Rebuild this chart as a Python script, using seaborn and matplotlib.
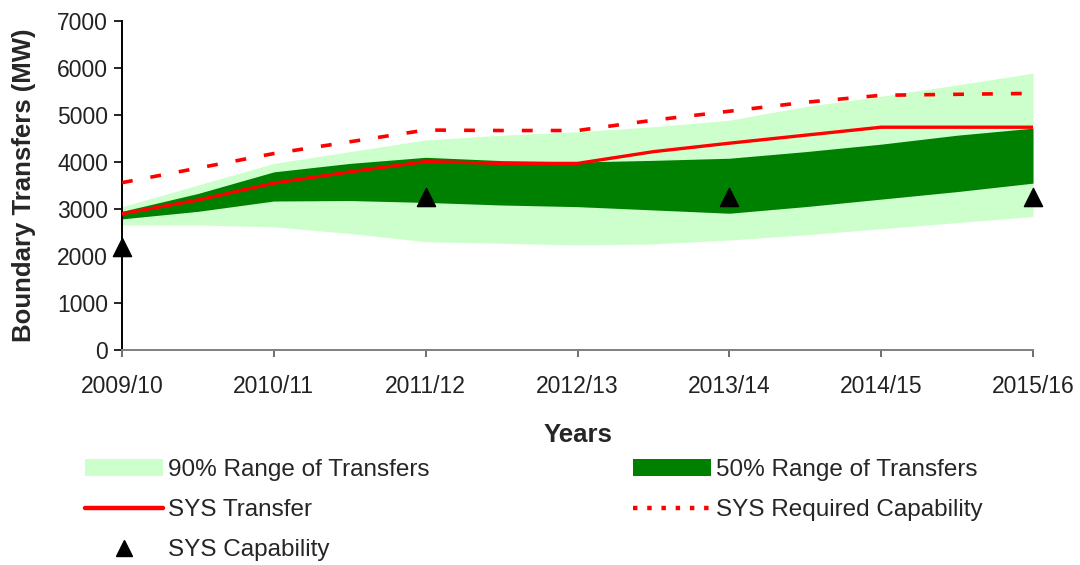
import matplotlib
matplotlib.use("Agg")
import matplotlib.pyplot as plt
import seaborn as sns
from matplotlib.patches import Patch
from matplotlib.lines import Line2D

# ---------------- data ----------------
years = ["2009/10", "2010/11", "2011/12", "2012/13", "2013/14", "2014/15", "2015/16"]
# sample points along the year axis (index of year, half-year steps)
t = [0, 0.5, 1, 1.5, 2, 2.5, 3, 3.5, 4, 4.5, 5, 5.5, 6]

range90_hi = [3050, 3510, 3970, 4220, 4470, 4570, 4645, 4750, 4890, 5180, 5400, 5640, 5890]
range90_lo = [2660, 2660, 2620, 2480, 2305, 2270, 2235, 2255, 2340, 2450, 2580, 2710, 2840]
range50_hi = [2950, 3330, 3790, 3970, 4100, 4030, 4000, 4035, 4080, 4220, 4380, 4570, 4720]
range50_lo = [2790, 2950, 3170, 3180, 3140, 3085, 3050, 2980, 2910, 3050, 3210, 3370, 3550]
sys_transfer = [2900, 3190, 3550, 3790, 4010, 3970, 3970, 4220, 4400, 4570, 4740, 4740, 4740]
sys_required = [3560, 3870, 4180, 4430, 4680, 4670, 4670, 4890, 5080, 5270, 5420, 5440, 5460]

cap_t = [0, 2, 4, 6]
sys_capability = [2200, 3250, 3250, 3250]

LIGHT = "#ccffcc"
DARK = "#008000"
RED = "#ff0000"

# ---------------- plot ----------------
sns.set_style("ticks")
plt.rcParams["font.family"] = ["Liberation Sans", "DejaVu Sans"]

fig = plt.figure(figsize=(10.8, 5.65), dpi=100)
ax = fig.add_axes([122 / 1080, 1 - 350 / 565, (1033 - 122) / 1080, (350 - 21) / 565])

ax.fill_between(t, range90_lo, range90_hi, color=LIGHT, lw=0, zorder=1)
ax.fill_between(t, range50_lo, range50_hi, color=DARK, lw=0, zorder=2)

sns.lineplot(x=t, y=sys_required, ax=ax, color=RED, lw=2.6,
             linestyle=(0, (3, 5)), zorder=3)
sns.lineplot(x=t, y=sys_transfer, ax=ax, color=RED, lw=2.4, zorder=4)
sns.scatterplot(x=cap_t, y=sys_capability, ax=ax, marker="^", s=170,
                color="black", edgecolor="black", zorder=5, clip_on=False)

ax.set_xlim(0, 6)
ax.set_ylim(0, 7000)
ax.set_xticks(range(len(years)))
ax.set_xticklabels(years)
ax.set_yticks(range(0, 7001, 1000))

ax.tick_params(axis="both", labelsize=16.5, colors="#222222")
ax.tick_params(axis="y", length=6, width=1.2, color="black", pad=4)
ax.tick_params(axis="x", length=5, width=1.2, color="#555555", pad=13)

sns.despine(ax=ax)
ax.spines["left"].set_color("black")
ax.spines["left"].set_linewidth(1.4)
ax.spines["bottom"].set_color("#808080")
ax.spines["bottom"].set_linewidth(1.4)

ax.set_ylabel("Boundary Transfers (MW)", fontsize=18.5, fontweight="bold", labelpad=15)
ax.set_xlabel("Years", fontsize=18.5, fontweight="bold", labelpad=18)

handles = [
    Patch(facecolor=LIGHT, edgecolor="none"),
    Line2D([], [], color=RED, lw=3.2),
    Line2D([], [], color="black", marker="^", ls="none", markersize=12),
    Patch(facecolor=DARK, edgecolor="none"),
    Line2D([], [], color=RED, lw=3.2, linestyle=(0, (1.0, 2.2))),
]
labels = ["90% Range of Transfers", "SYS Transfer", "SYS Capability",
          "50% Range of Transfers", "SYS Required Capability"]
fig.legend(handles, labels, loc="upper left", bbox_to_anchor=(85 / 1080, 1 - 459 / 565),
           ncol=2, frameon=False, fontsize=17.5, handlelength=3.2, handleheight=0.65,
           handletextpad=0.2, columnspacing=8.4, labelspacing=0.74,
           borderpad=0, borderaxespad=0)

fig.savefig("out.png", dpi=100)
